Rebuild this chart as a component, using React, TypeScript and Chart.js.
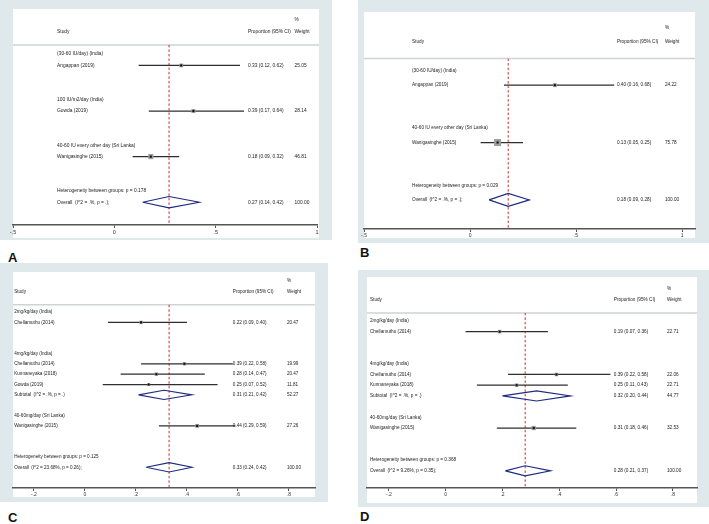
import React, { useEffect, useRef } from "react";
import { Chart, registerables } from "chart.js";
Chart.register(...registerables);

// ---------- Panel A ----------
const A_groups = ["(30-60 IU/day) (India)", "100 IU/m2/day (India)", "40-60 IU every other day (Sri Lanka)"];
const A_studies = ["Angappan (2019)", "Gowda (2019)", "Wanigasinghe (2015)"];
const A_groupOf = [0, 1, 2];
const A_est = [0.33, 0.39, 0.18];
const A_lo = [0.12, 0.17, 0.09];
const A_hi = [0.62, 0.64, 0.32];
const A_weight = [25.05, 28.14, 46.81];
const A_subEst = [null, null, null];
const A_subLo = [null, null, null];
const A_subHi = [null, null, null];
const A_subWeight = [null, null, null];
const A_overall = [0.27, 0.14, 0.42];
const A_overallLabel = "Overall  (I^2 = .%, p = .);";
const A_het = "Heterogeneity between groups: p = 0.178";
const A_ticks = [-0.5, 0, 0.5, 1];
const A_tickLabels = ["-.5", "0", ".5", "1"];

// ---------- Panel B ----------
const B_groups = ["(30-60 IU/day) (India)", "40-60 IU every other day (Sri Lanka)"];
const B_studies = ["Angappan (2019)", "Wanigasinghe (2015)"];
const B_groupOf = [0, 1];
const B_est = [0.4, 0.13];
const B_lo = [0.16, 0.05];
const B_hi = [0.68, 0.25];
const B_weight = [24.22, 75.78];
const B_subEst = [null, null];
const B_subLo = [null, null];
const B_subHi = [null, null];
const B_subWeight = [null, null];
const B_overall = [0.18, 0.09, 0.28];
const B_overallLabel = "Overall  (I^2 = .%, p = .);";
const B_het = "Heterogeneity between groups: p = 0.029";
const B_ticks = [-0.5, 0, 0.5, 1];
const B_tickLabels = ["-.5", "0", ".5", "1"];

// ---------- Panel C ----------
const C_groups = ["2mg/kg/day (India)", "4mg/kg/day (India)", "40-60mg/day (Sri Lanka)"];
const C_studies = ["Chellamuthu (2014)", "Chellamuthu (2014)", "Kunnaneyaka (2018)", "Gowda (2019)", "Wanigasinghe (2015)"];
const C_groupOf = [0, 1, 1, 1, 2];
const C_est = [0.22, 0.39, 0.28, 0.25, 0.44];
const C_lo = [0.09, 0.22, 0.14, 0.07, 0.29];
const C_hi = [0.4, 0.58, 0.47, 0.52, 0.59];
const C_weight = [20.47, 19.99, 20.47, 11.81, 27.26];
const C_subEst = [null, 0.31, null];
const C_subLo = [null, 0.21, null];
const C_subHi = [null, 0.42, null];
const C_subWeight = [null, 52.27, null];
const C_overall = [0.33, 0.24, 0.42];
const C_overallLabel = "Overall  (I^2 = 23.68%, p = 0.26);";
const C_het = "Heterogeneity between groups: p = 0.125";
const C_ticks = [-0.2, 0, 0.2, 0.4, 0.6, 0.8];
const C_tickLabels = ["-.2", "0", ".2", ".4", ".6", ".8"];

// ---------- Panel D ----------
const D_groups = ["2mg/kg/day (India)", "4mg/kg/day (India)", "40-60mg/day (Sri Lanka)"];
const D_studies = ["Chellamuthu (2014)", "Chellamuthu (2014)", "Kunnaneyaka (2018)", "Wanigasinghe (2015)"];
const D_groupOf = [0, 1, 1, 2];
const D_est = [0.19, 0.39, 0.25, 0.31];
const D_lo = [0.07, 0.22, 0.11, 0.18];
const D_hi = [0.36, 0.58, 0.43, 0.46];
const D_weight = [22.71, 22.06, 22.71, 32.53];
const D_subEst = [null, 0.32, null];
const D_subLo = [null, 0.2, null];
const D_subHi = [null, 0.44, null];
const D_subWeight = [null, 44.77, null];
const D_overall = [0.28, 0.21, 0.37];
const D_overallLabel = "Overall  (I^2 = 9.26%, p = 0.35);";
const D_het = "Heterogeneity between groups: p = 0.368";
const D_ticks = [-0.2, 0, 0.2, 0.4, 0.6, 0.8];
const D_tickLabels = ["-.2", "0", ".2", ".4", ".6", ".8"];

const SUBTOTAL_LABEL = "Subtotal  (I^2 = .%, p = .)";

type Panel = {
  groups: string[]; studies: string[]; groupOf: number[];
  est: number[]; lo: number[]; hi: number[]; weight: number[];
  subEst: (number | null)[]; subLo: (number | null)[]; subHi: (number | null)[]; subWeight: (number | null)[];
  overall: number[]; overallLabel: string; het: string;
  ticks: number[]; tickLabels: string[];
};

const panelA: Panel = { groups: A_groups, studies: A_studies, groupOf: A_groupOf, est: A_est, lo: A_lo, hi: A_hi, weight: A_weight, subEst: A_subEst, subLo: A_subLo, subHi: A_subHi, subWeight: A_subWeight, overall: A_overall, overallLabel: A_overallLabel, het: A_het, ticks: A_ticks, tickLabels: A_tickLabels };
const panelB: Panel = { groups: B_groups, studies: B_studies, groupOf: B_groupOf, est: B_est, lo: B_lo, hi: B_hi, weight: B_weight, subEst: B_subEst, subLo: B_subLo, subHi: B_subHi, subWeight: B_subWeight, overall: B_overall, overallLabel: B_overallLabel, het: B_het, ticks: B_ticks, tickLabels: B_tickLabels };
const panelC: Panel = { groups: C_groups, studies: C_studies, groupOf: C_groupOf, est: C_est, lo: C_lo, hi: C_hi, weight: C_weight, subEst: C_subEst, subLo: C_subLo, subHi: C_subHi, subWeight: C_subWeight, overall: C_overall, overallLabel: C_overallLabel, het: C_het, ticks: C_ticks, tickLabels: C_tickLabels };
const panelD: Panel = { groups: D_groups, studies: D_studies, groupOf: D_groupOf, est: D_est, lo: D_lo, hi: D_hi, weight: D_weight, subEst: D_subEst, subLo: D_subLo, subHi: D_subHi, subWeight: D_subWeight, overall: D_overall, overallLabel: D_overallLabel, het: D_het, ticks: D_ticks, tickLabels: D_tickLabels };

type Layout = {
  left: number; top: number; w: number; h: number;
  white: number[]; area: number[];
  xMin: number; xMax: number; yMin: number; yMax: number;
  fs: number; tfs: number; cols: number[]; sepRow: number; diamondH: number; markK: number;
  letter: string; letterX: number; letterY: number;
};

const layoutA: Layout = { left: 0, top: 0, w: 332, h: 240, white: [13, 9, 319, 238], area: [13, 9, 317, 225], xMin: -0.5, xMax: 1.0, yMin: -3.95, yMax: 15, fs: 4.85, tfs: 5.5, cols: [0.145, 0.773, 0.926], sepRow: -0.8, diamondH: 0.5, markK: 0.75, letter: "A", letterX: 8, letterY: 250 };
const layoutB: Layout = { left: 358, top: 0, w: 351, h: 243, white: [6, 12, 337, 238], area: [6, 12, 337, 229], xMin: -0.5, xMax: 1.061, yMin: -4.1, yMax: 11.03, fs: 4.7, tfs: 5, cols: [0.145, 0.764, 0.909], sepRow: -0.85, diamondH: 0.45, markK: 0.8, letter: "B", letterX: 360, letterY: 245 };
const layoutC: Layout = { left: 0, top: 263, w: 328, h: 239, white: [13, 9, 315, 234], area: [13, 9, 315, 225], xMin: -0.282, xMax: 0.902, yMin: -3.87, yMax: 17, fs: 4.6, tfs: 5, cols: [0.004, 0.728, 0.907], sepRow: -0.7, diamondH: 0.45, markK: 0.75, letter: "C", letterX: 8, letterY: 510 };
const layoutD: Layout = { left: 358, top: 270, w: 351, h: 237, white: [9, 7, 339, 233], area: [9, 7, 339, 218], xMin: -0.277, xMax: 0.885, yMin: -4.1, yMax: 15.6, fs: 4.7, tfs: 5, cols: [0.009, 0.748, 0.909], sepRow: -0.75, diamondH: 0.47, markK: 0.75, letter: "D", letterX: 360, letterY: 509 };

const BG = "#dfe8eb";
const FONT = '"Liberation Sans", Arial, sans-serif';
const NAVY = "#1f2a80";
const RED = "#c8302c";

const f2 = (v: number) => v.toFixed(2);
const ciText = (e: number, l: number, h: number) => `${f2(e)} (${f2(l)}, ${f2(h)})`;

function buildRows(p: Panel) {
  let r = 0;
  const groupRow: number[] = [];
  const studyRow: number[] = new Array(p.studies.length).fill(0);
  const subRow: number[] = [];
  p.groups.forEach((g, gi) => {
    groupRow[gi] = r++;
    p.studies.forEach((s, si) => {
      if (p.groupOf[si] === gi) studyRow[si] = r++;
    });
    subRow[gi] = r++;
    r++;
  });
  const hetRow = r++;
  const overallRow = r++;
  return { groupRow, studyRow, subRow, hetRow, overallRow };
}

function ForestChart({ p, l }: { p: Panel; l: Layout }) {
  const ref = useRef<HTMLCanvasElement>(null);
  useEffect(() => {
    const canvas = ref.current!;
    const rows = buildRows(p);
    const datasets: any[] = [];
    const pts = p.est.map((e, i) => ({ x: e, y: rows.studyRow[i] }));
    // black centre dots (top)
    datasets.push({ type: "scatter", data: pts, pointStyle: "rect", pointRadius: 1.5, backgroundColor: "#111", borderWidth: 0 });
    // grey weight boxes
    datasets.push({ type: "scatter", data: pts, pointStyle: "rect", pointRadius: p.weight.map((w) => (l.markK * Math.sqrt(w)) / Math.SQRT2), backgroundColor: "#9c9c9c", borderWidth: 0 });
    // diamonds
    const diamond = (e: number, lo: number, hi: number, r: number) => [
      { x: lo, y: r }, { x: e, y: r - l.diamondH }, { x: hi, y: r }, { x: e, y: r + l.diamondH }, { x: lo, y: r },
    ];
    p.subEst.forEach((e, gi) => {
      if (e == null) return;
      datasets.push({ type: "line", data: diamond(e, p.subLo[gi] as number, p.subHi[gi] as number, rows.subRow[gi]), borderColor: NAVY, borderWidth: 1.1, pointRadius: 0, fill: false, tension: 0 });
    });
    datasets.push({ type: "line", data: diamond(p.overall[0], p.overall[1], p.overall[2], rows.overallRow), borderColor: NAVY, borderWidth: 1.1, pointRadius: 0, fill: false, tension: 0 });
    // CI lines
    p.studies.forEach((s, i) => {
      datasets.push({ type: "line", data: [{ x: p.lo[i], y: rows.studyRow[i] }, { x: p.hi[i], y: rows.studyRow[i] }], borderColor: "#2e2e2e", borderWidth: 1.25, pointRadius: 0, fill: false });
    });
    // overall reference line
    datasets.push({ type: "line", data: [{ x: p.overall[0], y: l.sepRow }, { x: p.overall[0], y: l.yMax }], borderColor: RED, borderWidth: 1, borderDash: [2.5, 2], pointRadius: 0, fill: false });

    const axisH = 3 + l.tfs * 1.2 + 2;
    const padding = { left: l.area[0], top: l.area[1], right: l.w - l.area[2], bottom: l.h - l.area[3] - axisH };

    const bgPlugin = {
      id: "bgbox",
      beforeDraw(chart: any) {
        const ctx = chart.ctx;
        ctx.save();
        ctx.fillStyle = BG;
        ctx.fillRect(0, 0, l.w, l.h);
        ctx.fillStyle = "#ffffff";
        ctx.fillRect(l.white[0], l.white[1], l.white[2] - l.white[0], l.white[3] - l.white[1]);
        const y = chart.scales.y.getPixelForValue(l.sepRow);
        ctx.strokeStyle = "#cfd3d5";
        ctx.lineWidth = 1.5;
        ctx.beginPath();
        ctx.moveTo(l.white[0], y);
        ctx.lineTo(l.white[2], y);
        ctx.stroke();
        ctx.restore();
      },
    };

    const textPlugin = {
      id: "texts",
      afterDatasetsDraw(chart: any) {
        const ctx = chart.ctx;
        const { left, right } = chart.chartArea;
        const ys = chart.scales.y;
        const cx = (f: number) => left + f * (right - left);
        const put = (t: string, col: number, row: number) => ctx.fillText(t, cx(l.cols[col]), ys.getPixelForValue(row));
        ctx.save();
        ctx.font = `${l.fs}px ${FONT}`;
        ctx.fillStyle = "#222";
        ctx.textBaseline = "middle";
        ctx.textAlign = "left";
        put("%", 2, -3);
        put("Study", 0, -2);
        put("Proportion (95% CI)", 1, -2);
        put("Weight", 2, -2);
        p.groups.forEach((g, gi) => {
          put(g, 0, rows.groupRow[gi]);
          const se = p.subEst[gi];
          if (se != null) {
            put(SUBTOTAL_LABEL, 0, rows.subRow[gi]);
            put(ciText(se, p.subLo[gi] as number, p.subHi[gi] as number), 1, rows.subRow[gi]);
            put(f2(p.subWeight[gi] as number), 2, rows.subRow[gi]);
          }
        });
        p.studies.forEach((s, i) => {
          put(s, 0, rows.studyRow[i]);
          put(ciText(p.est[i], p.lo[i], p.hi[i]), 1, rows.studyRow[i]);
          put(f2(p.weight[i]), 2, rows.studyRow[i]);
        });
        put(p.het, 0, rows.hetRow);
        put(p.overallLabel, 0, rows.overallRow);
        put(ciText(p.overall[0], p.overall[1], p.overall[2]), 1, rows.overallRow);
        put(f2(100), 2, rows.overallRow);
        ctx.restore();
      },
    };

    const chart = new Chart(canvas, {
      type: "scatter",
      data: { datasets },
      options: {
        responsive: false,
        animation: false,
        devicePixelRatio: 1,
        events: [],
        layout: { padding },
        plugins: { legend: { display: false }, tooltip: { enabled: false } },
        scales: {
          x: {
            type: "linear",
            min: l.xMin,
            max: l.xMax,
            afterBuildTicks: (s: any) => {
              s.ticks = p.ticks.map((v) => ({ value: v }));
            },
            ticks: {
              callback: (v: any, i: number) => p.tickLabels[i],
              font: { size: l.tfs, family: FONT },
              color: "#333",
              padding: 1,
              maxRotation: 0,
              autoSkip: false,
            },
            grid: { drawOnChartArea: false, drawTicks: true, tickLength: 3, color: "#555", lineWidth: 1 },
            border: { display: true, color: "#555", width: 1.5 },
          },
          y: { type: "linear", min: l.yMin, max: l.yMax, reverse: true, display: false },
        },
      },
      plugins: [bgPlugin, textPlugin],
    } as any);
    return () => chart.destroy();
  }, []);
  return (
    <>
      <canvas ref={ref} width={l.w} height={l.h} style={{ position: "absolute", left: l.left, top: l.top, width: l.w, height: l.h }} />
      <div style={{ position: "absolute", left: l.letterX, top: l.letterY, fontFamily: FONT, fontWeight: "bold", fontSize: 13, lineHeight: "15px", color: "#111" }}>{l.letter}</div>
    </>
  );
}

export default function App() {
  return (
    <div style={{ position: "absolute", left: 0, top: 0, width: 709, height: 524, background: "#fff", overflow: "hidden" }}>
      <ForestChart p={panelA} l={layoutA} />
      <ForestChart p={panelB} l={layoutB} />
      <ForestChart p={panelC} l={layoutC} />
      <ForestChart p={panelD} l={layoutD} />
    </div>
  );
}
